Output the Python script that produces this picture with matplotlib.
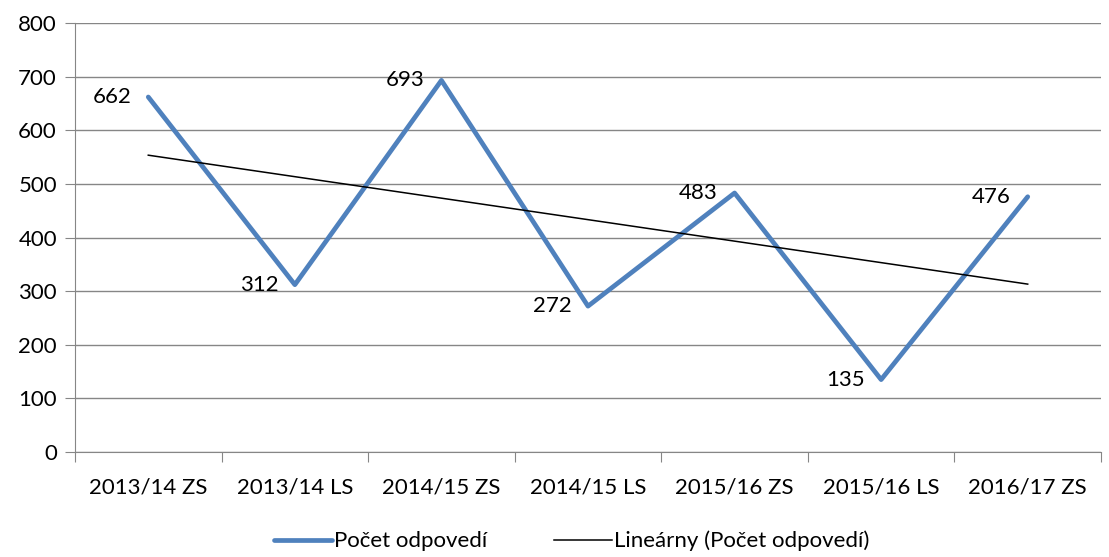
import matplotlib.pyplot as plt
import numpy as np

semesters = ['2013/14 ZS', '2013/14 LS', '2014/15 ZS', '2014/15 LS',
             '2015/16 ZS', '2015/16 LS', '2016/17 ZS']
answers = [662, 312, 693, 272, 483, 135, 476]

plt.rcParams['font.family'] = ['Lato', 'DejaVu Sans']
FS = 16

fig = plt.figure(figsize=(11.09, 5.57), dpi=100)
ax = fig.add_axes([75 / 1109, 1 - 452 / 557, 1026 / 1109, 429 / 557])

xs = np.arange(len(answers))
ax.plot(xs, answers, color='#4F81BD', lw=3.4, solid_capstyle='round',
        label='Počet odpovedí', zorder=3)

# linear trendline
k, q = np.polyfit(xs + 1, answers, 1)
ax.plot(xs, k * (xs + 1) + q, color='black', lw=1.1,
        label='Lineárny (Počet odpovedí)', zorder=4)

for x, y in zip(xs, answers):
    ax.annotate(str(y), (x, y), xytext=(-12, 0), textcoords='offset points',
                ha='right', va='center', fontsize=FS)

ax.set_xlim(-0.5, len(answers) - 0.5)
ax.set_ylim(0, 800)
ax.set_yticks(range(0, 801, 100))
ax.yaxis.grid(True, color='#868686', lw=1)
ax.set_axisbelow(True)

ax.set_xticks(np.arange(-0.5, len(answers)), minor=False)
ax.set_xticklabels([])
ax.set_xticks(xs, minor=True)
ax.set_xticklabels(semesters, minor=True)
ax.tick_params(axis='x', which='major', length=7, color='#868686')
ax.tick_params(axis='x', which='minor', length=0, pad=18, labelsize=FS)
ax.tick_params(axis='y', length=7, color='#868686', labelsize=FS, pad=6)

for s in ['top', 'right']:
    ax.spines[s].set_visible(False)
for s in ['left', 'bottom']:
    ax.spines[s].set_color('#868686')

ax.legend(loc='center', bbox_to_anchor=(572 / 1109, 1 - 541 / 557),
          bbox_transform=fig.transFigure, ncol=2,
          frameon=False, fontsize=FS, handlelength=2.6, handletextpad=0.1,
          columnspacing=3.0)

plt.savefig('out.png', dpi=100)
